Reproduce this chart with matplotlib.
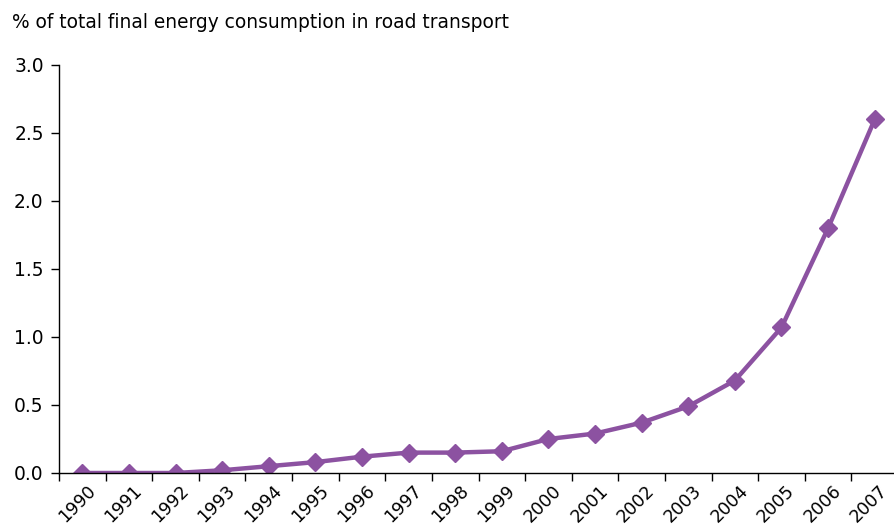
import matplotlib
matplotlib.use('Agg')
import matplotlib.pyplot as plt
import matplotlib.transforms as mtransforms
import numpy as np

years = ['1990', '1991', '1992', '1993', '1994', '1995', '1996', '1997', '1998',
         '1999', '2000', '2001', '2002', '2003', '2004', '2005', '2006', '2007']
share = [0.0, 0.0, 0.0, 0.02, 0.05, 0.08, 0.12, 0.15, 0.15,
         0.16, 0.25, 0.29, 0.37, 0.49, 0.68, 1.07, 1.80, 2.60]
yticks = [0.0, 0.5, 1.0, 1.5, 2.0, 2.5, 3.0]

purple = '#8c52a1'
fs = 13.4

fig = plt.figure(figsize=(8.94, 5.29), dpi=100)
ax = fig.add_axes([59 / 894, 1 - 473 / 529, (898 - 59) / 894, (473 - 65) / 529])

x = np.arange(len(years))
ax.plot(x, share, color=purple, lw=3.2, marker='D', ms=9.5, mec=purple, mfc=purple)

ax.set_xlim(-0.5, len(years) - 0.5)
ax.set_ylim(0, 3.0)
ax.set_yticks(yticks)
ax.set_yticklabels(['%.1f' % v for v in yticks], fontsize=fs)

# ticks sit on category boundaries, labels at centres
ax.set_xticks(np.arange(len(years) + 1) - 0.5)
ax.set_xticklabels([])
ax.set_xticks(x, minor=True)
ax.set_xticklabels(years, minor=True, rotation=45, ha='right',
                   rotation_mode='anchor', fontsize=12.6)
ax.tick_params(axis='x', which='minor', length=0, pad=6)
ax.tick_params(axis='both', which='major', length=6, width=1, direction='out')
ax.tick_params(axis='y', pad=5)
offset = mtransforms.ScaledTranslation(4 / 100, 0, fig.dpi_scale_trans)
for lbl in ax.get_xticklabels(minor=True):
    lbl.set_transform(lbl.get_transform() + offset)

for s in ['top', 'right']:
    ax.spines[s].set_visible(False)
ax.spines['left'].set_linewidth(1)
ax.spines['bottom'].set_linewidth(1)

fig.text(12 / 894, 1 - 22 / 529, '% of total final energy consumption in road transport',
         fontsize=fs, va='center', ha='left')

fig.savefig('out.png', dpi=100)
